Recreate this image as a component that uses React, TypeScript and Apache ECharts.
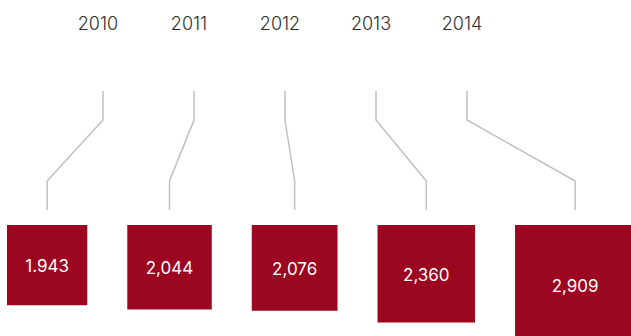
import React, { useEffect, useRef } from "react";
import * as echarts from "echarts";

// ---- data ----
const years = ["2010", "2011", "2012", "2013", "2014"];
const values = [1943, 2044, 2076, 2360, 2909];
const valueLabels = ["1.943", "2,044", "2,076", "2,360", "2,909"];

// ---- layout / style constants ----
const W = 631;
const H = 336;
const UNITS_PER_PX = 24.2;
const UNITS_ACROSS = W * UNITS_PER_PX; // value-axis span across the page
const GAP_UNITS = 40 * UNITS_PER_PX;
const START_UNITS = 7 * UNITS_PER_PX;
const SQUARE_COLOR = "#9b0620";
const LINE_COLOR = "#c0c0c2";
const FONT = "Inter, 'Open Sans', sans-serif";

export default function App() {
  const ref = useRef<HTMLDivElement>(null);

  useEffect(() => {
    const chart = echarts.init(ref.current!, null, { renderer: "svg", width: W, height: H });

    // squares are laid out one after another: each starts after the previous one plus a gap
    const lefts: number[] = [];
    let acc = START_UNITS;
    values.forEach((v) => {
      lefts.push(acc);
      acc += v + GAP_UNITS;
    });
    const squareData = values.map((v, i) => [lefts[i], v]);

    chart.setOption({
      animation: false,
      grid: [
        { left: 52.5, width: 455, top: 42, height: 150 },
        { left: 0, right: 0, top: 225, bottom: 0 },
      ],
      xAxis: [
        {
          type: "category",
          gridIndex: 0,
          data: years,
          position: "top",
          axisLine: { show: false },
          axisTick: { show: false },
          splitLine: { show: false },
          axisLabel: { fontSize: 18, color: "#2e2e2e", margin: 10, fontFamily: FONT, fontWeight: 300 },
        },
        { type: "value", gridIndex: 1, min: 0, max: UNITS_ACROSS, show: false },
      ],
      yAxis: [
        { type: "value", gridIndex: 0, min: 0, max: 1, show: false },
        { type: "value", gridIndex: 1, min: 0, max: 1, show: false },
      ],
      series: [
        {
          type: "custom",
          xAxisIndex: 1,
          yAxisIndex: 1,
          data: squareData,
          clip: false,
          renderItem: (params: any, api: any) => {
            const left = api.coord([api.value(0), 0])[0];
            const side = api.size([api.value(1), 0])[0];
            const top = params.coordSys.y;
            return {
              type: "group",
              children: [
                {
                  type: "rect",
                  shape: { x: left, y: top, width: side, height: side },
                  style: { fill: SQUARE_COLOR },
                },
                {
                  type: "text",
                  x: left + side / 2,
                  y: top + side / 2 + 1,
                  style: {
                    text: valueLabels[params.dataIndex],
                    fill: "#ffffff",
                    fontSize: 17,
                    fontFamily: FONT,
                    align: "center",
                    verticalAlign: "middle",
                  },
                },
              ],
            };
          },
        },
      ],
    });

    // connectors: from above each year label down to the middle of its square
    const graphics = years.map((y, i) => {
      const topX = (chart.convertToPixel({ xAxisIndex: 0 } as any, y) as number) + 5;
      const botX = chart.convertToPixel({ xAxisIndex: 1 } as any, lefts[i] + values[i] / 2) as number;
      return {
        type: "polyline",
        shape: {
          points: [
            [topX, 91],
            [topX, 120],
            [botX, 181],
            [botX, 210],
          ],
        },
        style: { stroke: LINE_COLOR, lineWidth: 1.5, fill: "none" },
      };
    });
    chart.setOption({ graphic: graphics });

    return () => chart.dispose();
  }, []);

  return (
    <div
      ref={ref}
      style={{ position: "fixed", left: 0, top: 0, width: W, height: H, background: "#fff" }}
    />
  );
}
